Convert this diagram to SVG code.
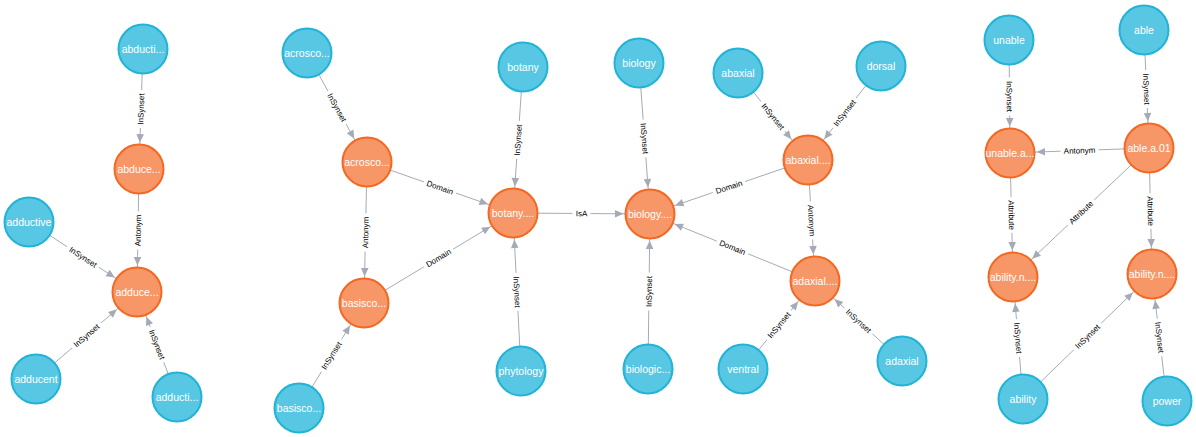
<svg xmlns="http://www.w3.org/2000/svg" width="1196" height="437" viewBox="0 0 1196 437">
<style>
.e{stroke:#A5ABB6;stroke-width:1;fill:none;marker-end:url(#arr)}
.lb{fill:#fff}
.lt{font-family:"Liberation Sans",Arial,sans-serif;font-size:8px;fill:#000;text-anchor:middle}
.b{fill:#57C7E3;stroke:#23B3D7;stroke-width:2}
.o{fill:#F79767;stroke:#F36924;stroke-width:2}
.nt{font-family:"Liberation Sans",Arial,sans-serif;font-size:10.5px;fill:#fff;text-anchor:middle}
</style>
<defs>
<marker id="arr" markerUnits="userSpaceOnUse" markerWidth="40" markerHeight="10" viewBox="-40 -5 40 10" refX="0" refY="0" orient="auto">
<path d="M-35,-3.8 L-26.5,0 L-35,3.8 Z" fill="#A5ABB6"/>
</marker>
</defs>
<rect width="1196" height="437" fill="#fff"/>
<g id="connectors">
<line class="e" x1="143" y1="49" x2="139" y2="169"/>
<line class="e" x1="139" y1="169" x2="137" y2="292"/>
<line class="e" x1="29" y1="222" x2="137" y2="292"/>
<line class="e" x1="36" y1="379" x2="137" y2="292"/>
<line class="e" x1="177" y1="397" x2="137" y2="292"/>
<line class="e" x1="307" y1="53" x2="367" y2="162"/>
<line class="e" x1="367" y1="162" x2="364" y2="303"/>
<line class="e" x1="367" y1="162" x2="513" y2="213"/>
<line class="e" x1="364" y1="303" x2="513" y2="213"/>
<line class="e" x1="299" y1="408" x2="364" y2="303"/>
<line class="e" x1="523" y1="67" x2="513" y2="213"/>
<line class="e" x1="521" y1="371" x2="513" y2="213"/>
<line class="e" x1="513" y1="213" x2="650" y2="214"/>
<line class="e" x1="639" y1="63" x2="650" y2="214"/>
<line class="e" x1="648" y1="369" x2="650" y2="214"/>
<line class="e" x1="808" y1="160" x2="650" y2="214"/>
<line class="e" x1="815" y1="281" x2="650" y2="214"/>
<line class="e" x1="738" y1="73" x2="808" y2="160"/>
<line class="e" x1="881" y1="66" x2="808" y2="160"/>
<line class="e" x1="808" y1="160" x2="815" y2="281"/>
<line class="e" x1="743" y1="369" x2="815" y2="281"/>
<line class="e" x1="902" y1="361" x2="815" y2="281"/>
<line class="e" x1="1009" y1="40" x2="1010" y2="153"/>
<line class="e" x1="1144" y1="30" x2="1149" y2="148"/>
<line class="e" x1="1149" y1="148" x2="1010" y2="153"/>
<line class="e" x1="1010" y1="153" x2="1013" y2="277"/>
<line class="e" x1="1149" y1="148" x2="1013" y2="277"/>
<line class="e" x1="1149" y1="148" x2="1152" y2="274"/>
<line class="e" x1="1023" y1="399" x2="1013" y2="277"/>
<line class="e" x1="1023" y1="399" x2="1152" y2="274"/>
<line class="e" x1="1167" y1="401" x2="1152" y2="274"/>

<g transform="translate(141,109) rotate(-88.1)"><rect class="lb" x="-19" y="-5" width="38" height="10"/><text class="lt" y="2.8">InSynset</text></g>
<g transform="translate(138,230.5) rotate(-89.1)"><rect class="lb" x="-19" y="-5" width="38" height="10"/><text class="lt" y="2.8">Antonym</text></g>
<g transform="translate(83,257) rotate(33)"><rect class="lb" x="-19" y="-5" width="38" height="10"/><text class="lt" y="2.8">InSynset</text></g>
<g transform="translate(86.5,335.5) rotate(-40.7)"><rect class="lb" x="-19" y="-5" width="38" height="10"/><text class="lt" y="2.8">InSynset</text></g>
<g transform="translate(157,344.5) rotate(69.1)"><rect class="lb" x="-19" y="-5" width="38" height="10"/><text class="lt" y="2.8">InSynset</text></g>
<g transform="translate(337,107.5) rotate(61.2)"><rect class="lb" x="-19" y="-5" width="38" height="10"/><text class="lt" y="2.8">InSynset</text></g>
<g transform="translate(365.5,232.5) rotate(-88.8)"><rect class="lb" x="-19" y="-5" width="38" height="10"/><text class="lt" y="2.8">Antonym</text></g>
<g transform="translate(440,187.5) rotate(19.3)"><rect class="lb" x="-17" y="-5" width="34" height="10"/><text class="lt" y="2.8">Domain</text></g>
<g transform="translate(438.5,258) rotate(-31.1)"><rect class="lb" x="-17" y="-5" width="34" height="10"/><text class="lt" y="2.8">Domain</text></g>
<g transform="translate(331.5,355.5) rotate(-58.2)"><rect class="lb" x="-19" y="-5" width="38" height="10"/><text class="lt" y="2.8">InSynset</text></g>
<g transform="translate(518,140) rotate(-86.1)"><rect class="lb" x="-19" y="-5" width="38" height="10"/><text class="lt" y="2.8">InSynset</text></g>
<g transform="translate(517,292) rotate(87.1)"><rect class="lb" x="-19" y="-5" width="38" height="10"/><text class="lt" y="2.8">InSynset</text></g>
<g transform="translate(581.5,213.5) rotate(0.4)"><rect class="lb" x="-9" y="-5" width="18" height="10"/><text class="lt" y="2.8">IsA</text></g>
<g transform="translate(644.5,138.5) rotate(85.8)"><rect class="lb" x="-19" y="-5" width="38" height="10"/><text class="lt" y="2.8">InSynset</text></g>
<g transform="translate(649,291.5) rotate(-89.3)"><rect class="lb" x="-19" y="-5" width="38" height="10"/><text class="lt" y="2.8">InSynset</text></g>
<g transform="translate(729,187) rotate(-18.9)"><rect class="lb" x="-17" y="-5" width="34" height="10"/><text class="lt" y="2.8">Domain</text></g>
<g transform="translate(732.5,247.5) rotate(22.1)"><rect class="lb" x="-17" y="-5" width="34" height="10"/><text class="lt" y="2.8">Domain</text></g>
<g transform="translate(773,116.5) rotate(51.2)"><rect class="lb" x="-19" y="-5" width="38" height="10"/><text class="lt" y="2.8">InSynset</text></g>
<g transform="translate(844.5,113) rotate(-52.2)"><rect class="lb" x="-19" y="-5" width="38" height="10"/><text class="lt" y="2.8">InSynset</text></g>
<g transform="translate(811.5,220.5) rotate(86.7)"><rect class="lb" x="-19" y="-5" width="38" height="10"/><text class="lt" y="2.8">Antonym</text></g>
<g transform="translate(779,325) rotate(-50.7)"><rect class="lb" x="-19" y="-5" width="38" height="10"/><text class="lt" y="2.8">InSynset</text></g>
<g transform="translate(858.5,321) rotate(42.6)"><rect class="lb" x="-19" y="-5" width="38" height="10"/><text class="lt" y="2.8">InSynset</text></g>
<g transform="translate(1009.5,96.5) rotate(89.5)"><rect class="lb" x="-19" y="-5" width="38" height="10"/><text class="lt" y="2.8">InSynset</text></g>
<g transform="translate(1146.5,89) rotate(87.6)"><rect class="lb" x="-19" y="-5" width="38" height="10"/><text class="lt" y="2.8">InSynset</text></g>
<g transform="translate(1079.5,150.5) rotate(-2)"><rect class="lb" x="-19" y="-5" width="38" height="10"/><text class="lt" y="2.8">Antonym</text></g>
<g transform="translate(1011.5,215) rotate(88.6)"><rect class="lb" x="-18" y="-5" width="36" height="10"/><text class="lt" y="2.8">Attribute</text></g>
<g transform="translate(1081,212.5) rotate(-43.5)"><rect class="lb" x="-18" y="-5" width="36" height="10"/><text class="lt" y="2.8">Attribute</text></g>
<g transform="translate(1150.5,211) rotate(88.6)"><rect class="lb" x="-18" y="-5" width="36" height="10"/><text class="lt" y="2.8">Attribute</text></g>
<g transform="translate(1018,338) rotate(85.3)"><rect class="lb" x="-19" y="-5" width="38" height="10"/><text class="lt" y="2.8">InSynset</text></g>
<g transform="translate(1087.5,336.5) rotate(-44.1)"><rect class="lb" x="-19" y="-5" width="38" height="10"/><text class="lt" y="2.8">InSynset</text></g>
<g transform="translate(1159.5,337.5) rotate(83.3)"><rect class="lb" x="-19" y="-5" width="38" height="10"/><text class="lt" y="2.8">InSynset</text></g>
</g>

<g id="n-abducti"><circle class="b" cx="143" cy="49" r="24.5"/><text class="nt" x="143" y="52.7">abducti...</text></g>
<g id="n-abduce"><circle class="o" cx="139" cy="169" r="24.5"/><text class="nt" x="139" y="172.7">abduce...</text></g>
<g id="n-adductive"><circle class="b" cx="29" cy="222" r="24.5"/><text class="nt" x="29" y="225.7">adductive</text></g>
<g id="n-adduce"><circle class="o" cx="137" cy="292" r="24.5"/><text class="nt" x="137" y="295.7">adduce...</text></g>
<g id="n-adducent"><circle class="b" cx="36" cy="379" r="24.5"/><text class="nt" x="36" y="382.7">adducent</text></g>
<g id="n-adducti2"><circle class="b" cx="177" cy="397" r="24.5"/><text class="nt" x="177" y="400.7">adducti...</text></g>

<g id="n-acrosco-word"><circle class="b" cx="307" cy="53" r="24.5"/><text class="nt" x="307" y="56.7">acrosco...</text></g>
<g id="n-acrosco"><circle class="o" cx="367" cy="162" r="24.5"/><text class="nt" x="367" y="165.7">acrosco...</text></g>
<g id="n-basisco"><circle class="o" cx="364" cy="303" r="24.5"/><text class="nt" x="364" y="306.7">basisco...</text></g>
<g id="n-basisco-word"><circle class="b" cx="299" cy="408" r="24.5"/><text class="nt" x="299" y="411.7">basisco...</text></g>
<g id="n-botany-word"><circle class="b" cx="523" cy="67" r="24.5"/><text class="nt" x="523" y="70.7">botany</text></g>
<g id="n-botany"><circle class="o" cx="513" cy="213" r="24.5"/><text class="nt" x="513" y="216.7">botany....</text></g>
<g id="n-phytology"><circle class="b" cx="521" cy="371" r="24.5"/><text class="nt" x="521" y="374.7">phytology</text></g>

<g id="n-biology-word"><circle class="b" cx="639" cy="63" r="24.5"/><text class="nt" x="639" y="66.7">biology</text></g>
<g id="n-biology"><circle class="o" cx="650" cy="214" r="24.5"/><text class="nt" x="650" y="217.7">biology....</text></g>
<g id="n-biologic"><circle class="b" cx="648" cy="369" r="24.5"/><text class="nt" x="648" y="372.7">biologic...</text></g>
<g id="n-abaxial-word"><circle class="b" cx="738" cy="73" r="24.5"/><text class="nt" x="738" y="76.7">abaxial</text></g>
<g id="n-dorsal"><circle class="b" cx="881" cy="66" r="24.5"/><text class="nt" x="881" y="69.7">dorsal</text></g>
<g id="n-abaxial"><circle class="o" cx="808" cy="160" r="24.5"/><text class="nt" x="808" y="163.7">abaxial....</text></g>
<g id="n-adaxial"><circle class="o" cx="815" cy="281" r="24.5"/><text class="nt" x="815" y="284.7">adaxial....</text></g>
<g id="n-ventral"><circle class="b" cx="743" cy="369" r="24.5"/><text class="nt" x="743" y="372.7">ventral</text></g>
<g id="n-adaxial-word"><circle class="b" cx="902" cy="361" r="24.5"/><text class="nt" x="902" y="364.7">adaxial</text></g>

<g id="n-unable"><circle class="b" cx="1009" cy="40" r="24.5"/><text class="nt" x="1009" y="43.7">unable</text></g>
<g id="n-able"><circle class="b" cx="1144" cy="30" r="24.5"/><text class="nt" x="1144" y="33.7">able</text></g>
<g id="n-unable-a"><circle class="o" cx="1010" cy="153" r="24.5"/><text class="nt" x="1010" y="156.7">unable.a...</text></g>
<g id="n-able-a"><circle class="o" cx="1149" cy="148" r="24.5"/><text class="nt" x="1149" y="151.7">able.a.01</text></g>
<g id="n-ability-n1"><circle class="o" cx="1013" cy="277" r="24.5"/><text class="nt" x="1013" y="280.7">ability.n....</text></g>
<g id="n-ability-n2"><circle class="o" cx="1152" cy="274" r="24.5"/><text class="nt" x="1152" y="277.7">ability.n....</text></g>
<g id="n-ability"><circle class="b" cx="1023" cy="399" r="24.5"/><text class="nt" x="1023" y="402.7">ability</text></g>
<g id="n-power"><circle class="b" cx="1167" cy="401" r="24.5"/><text class="nt" x="1167" y="404.7">power</text></g>
</svg>
